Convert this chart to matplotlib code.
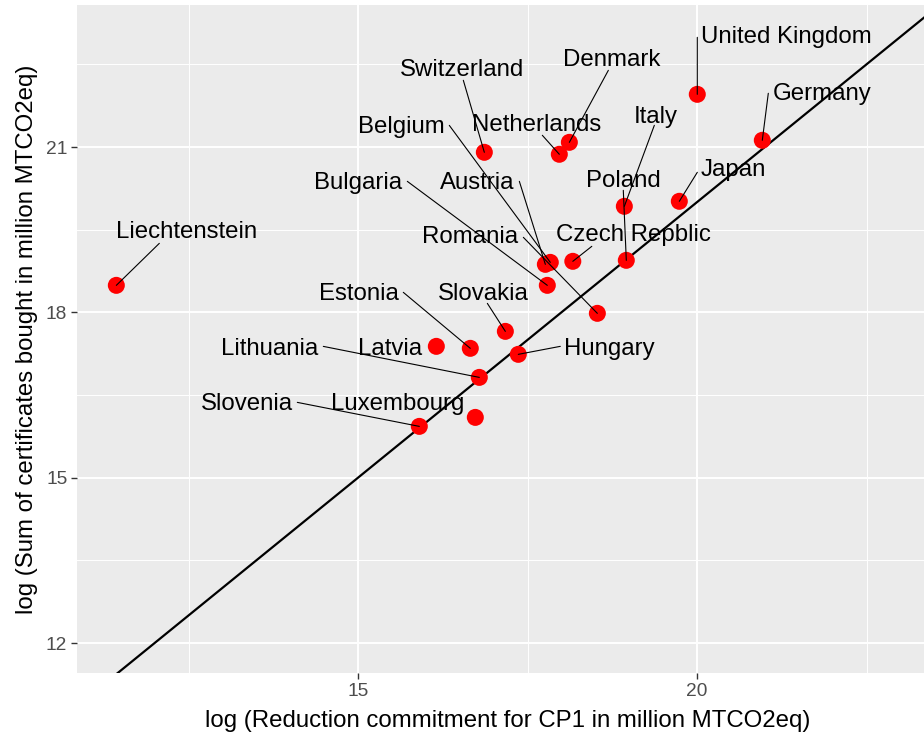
import numpy as np
import matplotlib
matplotlib.use("Agg")
from matplotlib import pyplot as plt

# values (log scale already)
countries = ["Liechtenstein", "Switzerland", "Netherlands", "Denmark", "United Kingdom",
             "Germany", "Italy", "Poland", "Japan", "Czech Repblic", "Austria", "Belgium",
             "Bulgaria", "Romania", "Slovakia", "Estonia", "Latvia", "Hungary",
             "Lithuania", "Luxembourg", "Slovenia"]
log_reduction = [11.435, 16.863, 17.969, 18.117, 20.004,
                 20.963, 18.928, 18.957, 19.739, 18.168, 17.763, 17.836,
                 17.792, 18.530, 17.173, 16.656, 16.155, 17.364,
                 16.789, 16.730, 15.904]
log_certificates = [18.49, 20.904, 20.868, 21.085, 21.956,
                    21.122, 19.924, 18.944, 20.015, 18.926, 18.871, 18.907,
                    18.490, 17.982, 17.655, 17.347, 17.383, 17.238,
                    16.820, 16.094, 15.931]

# repel-style label placement (pixel offsets from each point)
label_offset = [(70.5, 53), (-22, 82), (-22.5, 29), (42, 82), (89, 57),
                (59.5, 46), (31, 89), (-2.5, 79), (53.5, 31), (61, 26), (-68, 81), (-149, 135),
                (-189, 102), (-127, 76), (-22.5, 37), (-111.5, 54), (-46.5, -3), (91.5, 5),
                (-209.5, 28), (-78, 13), (-172, 22)]
# where the leader segment starts (None = no segment)
segment_start = [(43, 42), (-21, 72), (-17, 19), (39, 72), (0, 57),
                 (6, 47), (30, 81), (-3, 70), (18, 29), (19, 15), (-26, 83), (-101, 137),
                 (-140, 104), (-74, 76), (-18, 28), (-67, 56), None, (42, 8),
                 (-156, 31), None, (-122, 24)]

W, H = 924, 733
fig = plt.figure(figsize=(W / 100, H / 100), dpi=100)
ax = fig.add_axes([77 / W, (H - 673) / H, (924 - 77) / W, (673 - 5) / H])

ax.set_facecolor("#EBEBEB")
for s in ax.spines.values():
    s.set_visible(False)

ax.set_xlim(10.855, 23.348)
ax.set_ylim(11.456, 23.577)
ax.set_xticks([15, 20])
ax.set_yticks([12, 15, 18, 21])
ax.set_xticks([12.5, 17.5, 22.5], minor=True)
ax.set_yticks([13.5, 16.5, 19.5, 22.5], minor=True)
ax.grid(which="major", color="white", lw=1.4)
ax.grid(which="minor", color="white", lw=0.7)
ax.set_axisbelow(True)
ax.tick_params(which="major", length=4, width=1, color="#333333",
               labelsize=13.8, labelcolor="#4D4D4D", pad=3)
ax.tick_params(which="minor", length=0)

font = "Liberation Sans"
for lab in ax.get_xticklabels() + ax.get_yticklabels():
    lab.set_family(font)

ax.set_xlabel("log (Reduction commitment for CP1 in million MTCO2eq)",
              fontsize=17.3, family=font, labelpad=7.5)
ax.xaxis.label.set_x((508 - 77) / 847)
ax.set_ylabel("log (Sum of certificates bought in million MTCO2eq)",
              fontsize=17.3, family=font, labelpad=6)

# y = x reference line
lims = np.array([10.855, 23.6])
ax.plot(lims, lims, color="black", lw=1.6, zorder=2)

ax.scatter(log_reduction, log_certificates, s=150, color="red", edgecolors="none", zorder=3)

for name, x, y, off, seg in zip(countries, log_reduction, log_certificates,
                                label_offset, segment_start):
    if seg is not None:
        ax.annotate("", xy=(x, y), xytext=seg, textcoords="offset pixels",
                    arrowprops=dict(arrowstyle="-", color="black", lw=0.8,
                                    shrinkA=0, shrinkB=0), zorder=4)
    ax.annotate(name, xy=(x, y), xytext=off, textcoords="offset pixels",
                ha="center", va="center", fontsize=17.3, family=font,
                color="black", zorder=5)

fig.savefig("out.png", dpi=100)
